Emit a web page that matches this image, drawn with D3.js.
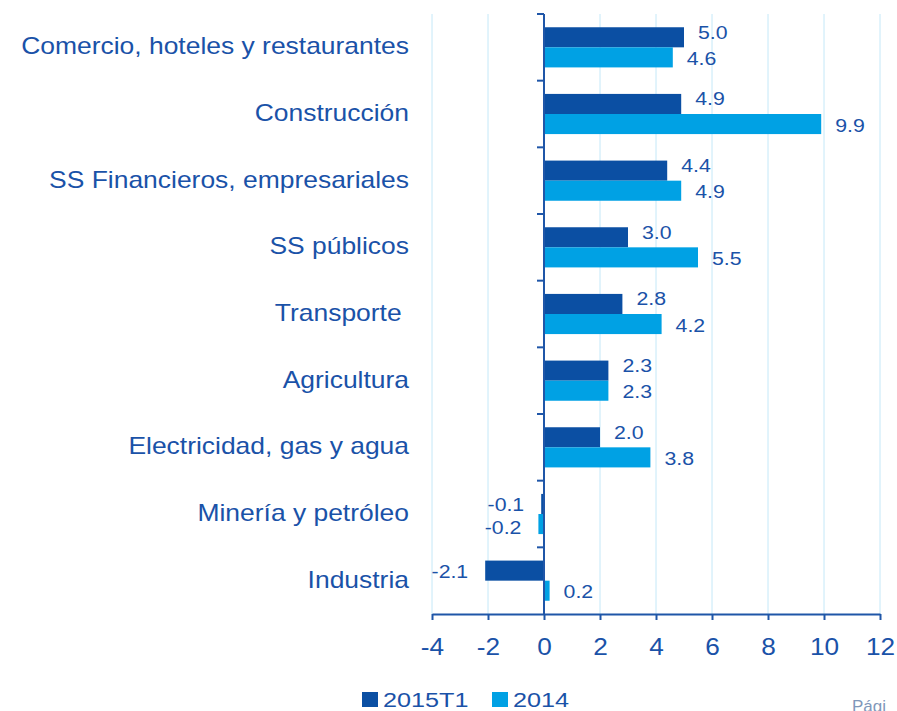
<!DOCTYPE html>
<html>
<head>
<meta charset="utf-8">
<script src="https://cdn.jsdelivr.net/npm/d3@7"></script>
<style>
    body { margin: 0; background: #fff; }
    svg { display: block; font-family: "Liberation Sans", Arial, sans-serif; }
    text { white-space: pre; }
</style>
</head>
<body>
<div id="chart"></div>
<script>
// Data
const categories = [
    "Comercio, hoteles y restaurantes",
    "Construcción",
    "SS Financieros, empresariales",
    "SS públicos",
    "Transporte ",
    "Agricultura",
    "Electricidad, gas y agua",
    "Minería y petróleo",
    "Industria"
];
const seriesNames = ["2015T1", "2014"];
const values2015T1 = [5.0, 4.9, 4.4, 3.0, 2.8, 2.3, 2.0, -0.1, -2.1];
const values2014 = [4.6, 9.9, 4.9, 5.5, 4.2, 2.3, 3.8, -0.2, 0.2];
const xTicks = [-4, -2, 0, 2, 4, 6, 8, 10, 12];

const colors = { s2015: "#0B4FA3", s2014: "#00A1E4", text: "#1A52A8", grid: "#C4E8F8", axis: "#1F56A8" };

const canvas = { w: 897, h: 711 };
const plot = { left: 432, right: 880, top: 14, bottom: 614 };
const stretch = 1.15; // text in the picture is a bit wider than tall

const svg = d3.select("#chart").append("svg")
    .attr("width", canvas.w)
    .attr("height", canvas.h);

const x = d3.scaleLinear().domain([-4, 12]).range([plot.left, plot.right]);
const y = d3.scaleBand().domain(categories).range([plot.top, plot.bottom]);
const inner = d3.scaleBand().domain(seriesNames).range([0, y.bandwidth()]).paddingOuter(0.66).paddingInner(0);

// text helper: wide text, anchored at (tx, ty)
function wideText(sel, tx, ty) {
    return sel.attr("transform", (d, i) => `translate(${tx(d, i)},${ty(d, i)}) scale(${stretch},1)`);
}

// gridlines
svg.append("g")
    .selectAll("line")
    .data(xTicks)
    .join("line")
    .attr("x1", d => x(d)).attr("x2", d => x(d))
    .attr("y1", plot.top).attr("y2", plot.bottom)
    .attr("stroke", colors.grid)
    .attr("stroke-width", 1);

// bars
const series = [
    { name: seriesNames[0], vals: values2015T1, color: colors.s2015, dyPos: -5, dyNeg: 1 },
    { name: seriesNames[1], vals: values2014, color: colors.s2014, dyPos: 1, dyNeg: 3 }
];

series.forEach(s => {
    const g = svg.append("g");
    g.selectAll("rect")
        .data(categories)
        .join("rect")
        .attr("x", (d, i) => x(Math.min(0, s.vals[i])))
        .attr("width", (d, i) => Math.abs(x(s.vals[i]) - x(0)))
        .attr("y", d => y(d) + inner(s.name))
        .attr("height", inner.bandwidth())
        .attr("fill", s.color);

    g.selectAll("text")
        .data(categories)
        .join("text")
        .call(wideText,
            (d, i) => s.vals[i] >= 0 ? x(s.vals[i]) + 14 : x(s.vals[i]) - 17,
            (d, i) => y(d) + inner(s.name) + inner.bandwidth() / 2 + (s.vals[i] >= 0 ? s.dyPos : s.dyNeg))
        .attr("dy", "0.35em")
        .attr("text-anchor", (d, i) => s.vals[i] >= 0 ? "start" : "end")
        .attr("font-size", 18.5)
        .attr("fill", colors.text)
        .text((d, i) => s.vals[i].toFixed(1));
});

// y axis at zero
const yAxis = svg.append("g")
    .attr("transform", `translate(${x(0)},0)`);
yAxis.append("line")
    .attr("y1", plot.top).attr("y2", plot.bottom)
    .attr("stroke", colors.axis).attr("stroke-width", 2);
yAxis.selectAll(".tk")
    .data(d3.range(categories.length))
    .join("line")
    .attr("x1", -7).attr("x2", 0)
    .attr("y1", i => y(categories[i])).attr("y2", i => y(categories[i]))
    .attr("stroke", colors.axis).attr("stroke-width", 2);

// category labels
svg.append("g")
    .selectAll("text")
    .data(categories)
    .join("text")
    .call(wideText, () => 409, d => y(d) + y.bandwidth() / 2 - 1)
    .attr("dy", "0.35em")
    .attr("text-anchor", "end")
    .attr("font-size", 23)
    .attr("fill", colors.text)
    .text(d => d);

// x axis
const xAxis = svg.append("g")
    .attr("transform", `translate(0,${plot.bottom})`)
    .call(d3.axisBottom(x).tickValues(xTicks).tickSize(6).tickSizeOuter(0).tickFormat(d => String(d)));
xAxis.select(".domain").attr("stroke", colors.axis).attr("stroke-width", 2);
xAxis.selectAll(".tick line").attr("stroke", colors.axis).attr("stroke-width", 2);
xAxis.selectAll(".tick text")
    .attr("y", 0)
    .attr("dy", 0)
    .attr("transform", `translate(0,41) scale(${stretch * 0.95},1)`)
    .attr("font-size", 24)
    .attr("font-family", "Liberation Sans, Arial, sans-serif")
    .attr("fill", colors.text);

// legend
const legend = svg.append("g").attr("transform", "translate(362,692)");
const legendItems = [
    { name: seriesNames[0], color: colors.s2015, x: 0 },
    { name: seriesNames[1], color: colors.s2014, x: 130 }
];
legendItems.forEach(l => {
    legend.append("rect")
        .attr("x", l.x).attr("y", 0)
        .attr("width", 16).attr("height", 15)
        .attr("fill", l.color);
    legend.append("text")
        .attr("transform", `translate(${l.x + 21},15) scale(${stretch + 0.05},1)`)
        .attr("font-size", 21)
        .attr("fill", colors.text)
        .text(l.name);
});

// page footer fragment (cut off at the edge, as in the source)
svg.append("text")
    .attr("x", 852).attr("y", 712)
    .attr("font-size", 17)
    .attr("fill", "#7F97BA")
    .text("Pági");
</script>
</body>
</html>
